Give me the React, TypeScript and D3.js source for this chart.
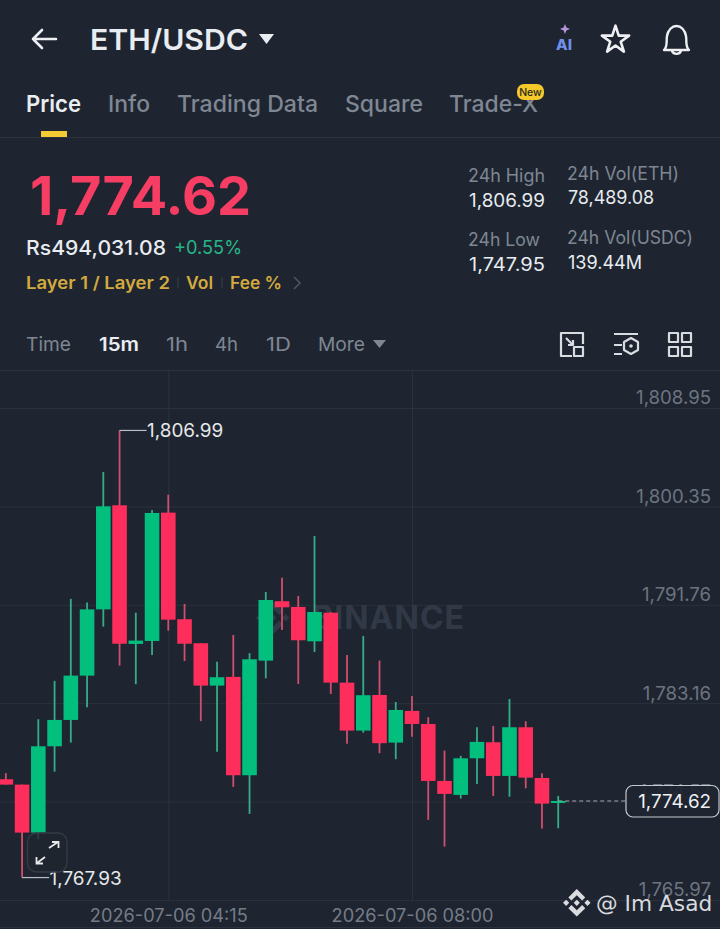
import { useEffect, useRef } from "react";
import * as d3 from "d3";

const firstCandle = new Date(2026, 6, 6, 1, 45);
const candleMinutes = 15;

const opens = [1776.52, 1776.05, 1771.86, 1779.4, 1781.7, 1785.57, 1791.36, 1800.45, 1788.34, 1788.6, 1799.81, 1790.5, 1788.4, 1784.7, 1785.46, 1776.87, 1786.88, 1792.07, 1791.57, 1788.57, 1791.07, 1784.96, 1780.77, 1783.88, 1779.72, 1782.49, 1781.35, 1776.37, 1775.15, 1778.35, 1779.75, 1776.81, 1781.06, 1776.63, 1774.52];
const highs = [1777.05, 1776.05, 1781.76, 1785.11, 1792.27, 1791.95, 1803.36, 1806.99, 1791.07, 1800.04, 1801.38, 1791.83, 1788.4, 1786.79, 1789.12, 1787.53, 1792.88, 1794.13, 1792.53, 1797.77, 1791.13, 1787.38, 1789.04, 1786.88, 1783.27, 1783.8, 1781.94, 1779.02, 1778.56, 1781.06, 1781.18, 1783.53, 1781.59, 1777.05, 1775.06];
const lows = [1776.05, 1767.93, 1771.31, 1777.18, 1779.72, 1782.81, 1789.85, 1786.44, 1784.82, 1787.38, 1789.5, 1786.85, 1781.59, 1778.93, 1775.85, 1773.49, 1785.34, 1789.56, 1784.84, 1787.64, 1783.97, 1779.63, 1780.59, 1778.79, 1778.27, 1780.24, 1772.97, 1770.63, 1774.83, 1776.11, 1775.06, 1775.0, 1775.73, 1772.21, 1772.24];
const closes = [1776.05, 1771.86, 1779.4, 1781.7, 1785.57, 1791.36, 1800.36, 1788.36, 1788.63, 1799.78, 1790.46, 1788.36, 1784.7, 1785.43, 1776.87, 1787.0, 1792.18, 1791.54, 1788.66, 1791.13, 1784.96, 1780.77, 1783.86, 1779.67, 1782.57, 1781.35, 1776.37, 1775.24, 1778.35, 1779.78, 1776.81, 1781.06, 1776.66, 1774.39, 1774.62];

const priceTicks = [1808.95, 1800.35, 1791.76, 1783.16, 1774.57, 1765.97];
const timeTicks = [new Date(2026, 6, 6, 4, 15), new Date(2026, 6, 6, 8, 0)];
const lastPrice = 1774.62;
const dayHigh = 1806.99;
const dayLow = 1767.93;

const W = 720, H = 929;
const BG = "#1e2530";
const GRID = "#2b323d";
const UP = "#02bf7d";
const DOWN = "#fd2e5b";
const UP_WICK = "#35ad88";
const DOWN_WICK = "#d04f6e";
const MUTED = "#7f8793";
const FONT = "Inter, sans-serif";
const LOGO = "M16.624 13.9202l2.7175 2.7154-7.353 7.353-7.353-7.352 2.7175-2.7164 4.6355 4.6595 4.6356-4.6595zm4.6366-4.6366L24 12l-2.7154 2.7164L18.5682 12l2.6924-2.7164zm-9.272.001l2.7163 2.6914-2.7164 2.7174v-.001L9.2721 12l2.7164-2.7154zm-9.2722-.001L5.4088 12l-2.6914 2.6924L0 12l2.7164-2.7164zM11.9885.0115l7.353 7.329-2.7174 2.7154-4.6356-4.6356-4.6355 4.6595-2.7174-2.7154 7.353-7.353z";

const fmt = d3.format(",.2f");

interface LabelProps {
  x: number; y: number; size: number; fill: string; w?: number; weight?: number;
  anchor?: "start" | "end" | "middle"; family?: string; children: string;
}

// w = measured width in the reference, keeps the labels where they belong
function T({ x, y, size, fill, w, weight = 400, anchor = "start", family = FONT, children }: LabelProps) {
  return (
    <text x={x} y={y} fontSize={size} fill={fill} fontWeight={weight} textAnchor={anchor} fontFamily={family}
      textLength={w} lengthAdjust={w ? "spacingAndGlyphs" : undefined}>
      {children}
    </text>
  );
}

function Chrome() {
  const stroke = { fill: "none", stroke: "#eef0f3", strokeWidth: 2.6, strokeLinecap: "round" as const, strokeLinejoin: "round" as const };
  const thin = { fill: "none", stroke: "#d8dbe0", strokeWidth: 2.2, strokeLinejoin: "round" as const };
  const star = d3.symbol().type(d3.symbolStar).size(230)() ?? "";
  return (
    <g>
      {/* top bar */}
      <path d="M33 39H56M42 30L33 39L42 48" {...stroke} />
      <T x={90} y={50} size={29} weight={600} fill="#e9ecf0" w={158}>ETH/USDC</T>
      <path d="M259 34H274L266.5 44Z" fill="#e9ecf0" />
      <path d="M565 24L566.4 27.6L570 29L566.4 30.4L565 34L563.6 30.4L560 29L563.6 27.6Z" fill="#b795d8" />
      <T x={556} y={50} size={14} weight={800} fill="#6f90ec" w={16}>AI</T>
      <path d={star} transform="translate(615.5,40)" {...stroke} />
      <path d="M664 50C668 46 666 42 667 36C668 30 672 26 676.5 26C681 26 685 30 686 36C687 42 685 46 689 50Z" {...stroke} strokeWidth={2.4} />
      <path d="M672 50.5C673 55 680 55 681 50.5" {...stroke} strokeWidth={2.4} />

      {/* tabs */}
      <T x={26} y={112} size={23} weight={600} fill="#e9ecf0" w={55}>Price</T>
      <T x={108} y={112} size={23} weight={500} fill={MUTED} w={42}>Info</T>
      <T x={177} y={112} size={23} weight={500} fill={MUTED} w={141}>Trading Data</T>
      <T x={345} y={112} size={23} weight={500} fill={MUTED} w={78}>Square</T>
      <T x={449} y={112} size={23} weight={500} fill={MUTED} w={89}>Trade-X</T>
      <rect x={517} y={84} width={27} height={16} rx={7} fill="#f5c92a" />
      <T x={530.5} y={96} size={10.5} weight={500} fill="#2a2a20" anchor="middle">New</T>
      <rect x={41} y={131} width={26} height={6} fill="#f3cb35" />
      <line x1={0} x2={W} y1={137.5} y2={137.5} stroke={GRID} />

      {/* price block */}
      <T x={30} y={215} size={53} weight={700} fill="#f63d63" w={221}>1,774.62</T>
      <T x={26} y={255} size={20} weight={500} fill="#e9ecf0" w={140}>Rs494,031.08</T>
      <T x={174} y={254} size={19} weight={400} fill="#26b689" w={68}>+0.55%</T>
      <T x={26} y={289} size={17} weight={600} fill="#d4aa3e" w={144}>Layer 1 / Layer 2</T>
      <T x={186} y={289} size={17} weight={600} fill="#d4aa3e" w={27}>Vol</T>
      <T x={230} y={289} size={17} weight={600} fill="#d4aa3e" w={52}>Fee %</T>
      <path d="M178 277V288M222 277V288" stroke="#39404b" strokeWidth={1} />
      <path d="M294 277L300 283L294 289" fill="none" stroke="#4f5662" strokeWidth={1.5} />

      {/* 24h stats */}
      <T x={468} y={182} size={18} fill={MUTED} w={77}>24h High</T>
      <T x={469} y={207} size={18} fill="#e9ecf0" w={76}>1,806.99</T>
      <T x={468} y={246} size={18} fill={MUTED} w={72}>24h Low</T>
      <T x={469} y={271} size={18} fill="#e9ecf0" w={76}>1,747.95</T>
      <T x={567} y={180} size={18} fill={MUTED} w={112}>24h Vol(ETH)</T>
      <T x={568} y={204} size={18} fill="#e9ecf0" w={86}>78,489.08</T>
      <T x={567} y={244} size={18} fill={MUTED} w={126}>24h Vol(USDC)</T>
      <T x={568} y={269} size={18} fill="#e9ecf0" w={74}>139.44M</T>

      {/* interval row */}
      <T x={26} y={351} size={19} fill={MUTED} w={45}>Time</T>
      <T x={99} y={351} size={19} weight={600} fill="#e9ecf0" w={40}>15m</T>
      <T x={166} y={351} size={19} fill={MUTED} w={22}>1h</T>
      <T x={215} y={351} size={19} fill={MUTED} w={23}>4h</T>
      <T x={266} y={351} size={19} fill={MUTED} w={25}>1D</T>
      <T x={318} y={351} size={19} fill={MUTED} w={47}>More</T>
      <path d="M373 340H386L379.5 348Z" fill={MUTED} />

      {/* toolbar icons */}
      <path d="M583 344V333H561V356H572" {...thin} />
      <rect x={574} y={347} width={9} height={9} {...thin} />
      <path d="M566 338L573 345M573 340V345H568" {...thin} />
      <path d="M614 334H638M614 345H622M614 354H622" {...thin} />
      <path d="M631 338L638 342V350L631 354L624 350V342Z" {...thin} />
      <circle cx={631} cy={346} r={1.8} fill="#d8dbe0" />
      <rect x={669} y={333} width={9} height={9} {...thin} />
      <rect x={682} y={333} width={9} height={9} {...thin} />
      <rect x={669} y={347} width={9} height={9} {...thin} />
      <rect x={682} y={347} width={9} height={9} {...thin} />
      <line x1={0} x2={W} y1={370.5} y2={370.5} stroke={GRID} strokeWidth={1.5} />
      <line x1={0} x2={W} y1={927.5} y2={927.5} stroke={GRID} />
    </g>
  );
}

export default function App() {
  const chartRef = useRef<SVGGElement>(null);

  useEffect(() => {
    if (!chartRef.current) return;
    const root = d3.select(chartRef.current);
    root.selectAll("*").remove();

    const y = d3.scaleLinear().domain([priceTicks[0], priceTicks[5]]).range([408, 900]);
    const x = d3.scaleTime().domain(timeTicks).range([168.3, 412]);

    const candles = opens.map((open, i) => ({
      t: d3.timeMinute.offset(firstCandle, i * candleMinutes),
      open, high: highs[i], low: lows[i], close: closes[i],
    }));

    /* ── grid + axes ── */
    const yAxis = d3.axisRight(y).tickValues(priceTicks).tickFormat(v => fmt(v as number)).tickSize(-W);
    root.append("g").attr("transform", `translate(${W},0)`).call(yAxis as any)
      .call((a: any) => a.select(".domain").remove())
      .call((a: any) => a.selectAll("line").attr("stroke", GRID))
      .call((a: any) => a.selectAll("text")
        .attr("x", -9).attr("y", -10).attr("text-anchor", "end")
        .attr("font-size", 18.6).attr("font-family", FONT).attr("fill", "#6d7480"));

    const xAxis = d3.axisBottom(x).tickValues(timeTicks)
      .tickFormat(d3.timeFormat("%Y-%m-%d %H:%M") as any).tickSize(-529);
    root.append("g").attr("transform", "translate(0,900)").call(xAxis as any)
      .call((a: any) => a.select(".domain").remove())
      .call((a: any) => a.selectAll("line").attr("stroke", GRID))
      .call((a: any) => a.selectAll("text")
        .attr("y", 9).attr("font-size", 18.2).attr("font-family", FONT).attr("fill", "#757c87"));

    /* ── watermark ── */
    root.append("text").attr("x", 465).attr("y", 629).attr("text-anchor", "end")
      .attr("font-size", 32).attr("letter-spacing", 1).attr("font-weight", 700).attr("font-family", FONT)
      .attr("fill", "#323946").text("BINANCE");
    root.append("path").attr("d", LOGO).attr("fill", "#323946")
      .attr("transform", "translate(256,601) scale(1.4)");

    /* ── candles ── */
    const g = root.append("g");
    g.selectAll("line").data(candles).join("line")
      .attr("x1", d => x(d.t)).attr("x2", d => x(d.t))
      .attr("y1", d => y(d.high)).attr("y2", d => y(d.low))
      .attr("stroke", d => d.close >= d.open ? UP_WICK : DOWN_WICK)
      .attr("stroke-width", 1.8);
    g.selectAll("rect").data(candles).join("rect")
      .attr("x", d => x(d.t) - 7.3).attr("width", 14.6)
      .attr("y", d => y(Math.max(d.open, d.close)))
      .attr("height", d => Math.max(Math.abs(y(d.open) - y(d.close)), 2))
      .attr("fill", d => d.close >= d.open ? UP : DOWN);

    /* ── high / low callouts ── */
    const extremes = [dayHigh, dayLow];
    extremes.forEach(p => {
      const c = candles.find(d => d.high === p || d.low === p)!;
      root.append("line").attr("x1", x(c.t)).attr("x2", x(c.t) + 27)
        .attr("y1", y(p)).attr("y2", y(p)).attr("stroke", "#b9bdc4").attr("stroke-width", 1.2);
      root.append("text").attr("x", x(c.t) + 27.5).attr("y", y(p) + 7)
        .attr("font-size", 18.9).attr("font-family", FONT).attr("fill", "#e6e8ea").text(fmt(p));
    });

    /* ── last price tag ── */
    const last = candles[candles.length - 1];
    root.append("line").attr("x1", x(last.t)).attr("x2", 626)
      .attr("y1", y(lastPrice)).attr("y2", y(lastPrice))
      .attr("stroke", "#a5a9b1").attr("stroke-width", 1.2).attr("stroke-dasharray", "4 3");
    root.append("rect").attr("x", 626).attr("y", 785.5).attr("width", 93).attr("height", 31.5).attr("rx", 7)
      .attr("fill", BG).attr("fill-opacity", 0.93).attr("stroke", "#c4c8ce").attr("stroke-width", 1.2);
    root.append("text").attr("x", 711).attr("y", y(lastPrice) + 7).attr("text-anchor", "end")
      .attr("font-size", 18.8).attr("font-family", FONT).attr("fill", "#eef0f3").text(fmt(lastPrice));

    /* ── expand button ── */
    const btn = root.append("g");
    btn.append("rect").attr("x", 27.5).attr("y", 833).attr("width", 39.5).attr("height", 39).attr("rx", 9)
      .attr("fill", BG).attr("fill-opacity", 0.8).attr("stroke", "#363d49").attr("stroke-width", 1.3);
    btn.append("path").attr("d", "M49 848L58 842M52 842H58.5V848M45 857L36.5 863.5M36.5 857V863.5H43")
      .attr("fill", "none").attr("stroke", "#e6e8ea").attr("stroke-width", 1.8);

    /* ── screenshot credit ── */
    root.append("path").attr("d", LOGO).attr("fill", "#d9dbdf")
      .attr("transform", "translate(563,889) scale(1.15)");
    root.append("text").attr("x", 596).attr("y", 911).attr("font-size", 21.7)
      .attr("font-family", "'DejaVu Sans', sans-serif").attr("fill", "#d9dbdf").text("@ Im Asad");
  }, []);

  return (
    <svg width={W} height={H} viewBox={`0 0 ${W} ${H}`}
      style={{ position: "absolute", left: 0, top: 0, display: "block", background: BG }}>
      <Chrome />
      <g ref={chartRef} />
    </svg>
  );
}
